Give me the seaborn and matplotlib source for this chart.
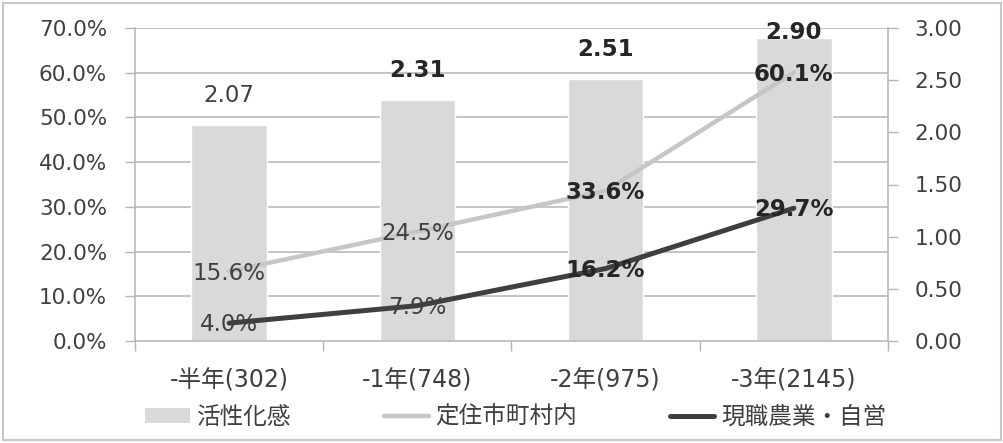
import numpy as np
import pandas as pd
import matplotlib
matplotlib.use('Agg')
import matplotlib.pyplot as plt
import seaborn as sns
from matplotlib.patches import Patch, Rectangle
from matplotlib.lines import Line2D

categories = ['-半年(302)', '-1年(748)', '-2年(975)', '-3年(2145)']
activation = [2.07, 2.31, 2.51, 2.90]
settle_pct = [15.6, 24.5, 33.6, 60.1]
farm_pct = [4.0, 7.9, 16.2, 29.7]
series_names = ['活性化感', '定住市町村内', '現職農業・自営']
pct_ticks = [0, 10, 20, 30, 40, 50, 60, 70]
score_ticks = [0.0, 0.5, 1.0, 1.5, 2.0, 2.5, 3.0]

sns.set_theme(style='white')
plt.rcParams['font.family'] = ['DejaVu Sans', 'Noto Sans CJK JP']

BAR = '#d9d9d9'
LIGHT = '#c6c6c6'
DARK = '#3f3f3f'
TXT = '#404040'
BOLD_TXT = '#262626'
GRID = '#b4b4b4'

W, H = 1004, 443
fig = plt.figure(figsize=(W / 100, H / 100), dpi=100)
ax = fig.add_axes([135 / W, 1 - 341 / H, (888 - 135) / W, (341 - 28) / H])
ax2 = ax.twinx()

df = pd.DataFrame({'cat': categories, 'score': activation})
sns.barplot(data=df, x='cat', y='score', ax=ax, color=BAR, width=0.4,
            saturation=1, zorder=2)

# gridlines follow the left (percent) scale, drawn behind bars
for p in pct_ticks[1:]:
    ax.axhline(p / pct_ticks[-1] * score_ticks[-1], color=GRID, lw=1.1, zorder=0.5)

ax.set_ylim(0, score_ticks[-1])
ax.set_xlim(-0.5, len(categories) - 0.5)
ax.set_xlabel('')
ax.set_ylabel('')
ax.yaxis.tick_right()
ax.yaxis.set_label_position('right')
ax.set_yticks(score_ticks, [f'{t:.2f}' for t in score_ticks])
ax.tick_params(axis='y', right=True, left=False, direction='out', length=7,
               width=1, color=GRID, labelsize=15.5, labelcolor=TXT, pad=12)
ax.set_xticks(range(len(categories)), categories)
ax.set_xticks(np.arange(-0.5, len(categories), 1.0), minor=True)
ax.tick_params(axis='x', which='major', length=0, labelsize=17, labelcolor=TXT, pad=20)
ax.tick_params(axis='x', which='minor', bottom=True, direction='out', length=7,
               width=1, color=GRID)
for s in ['left', 'right', 'bottom']:
    ax.spines[s].set_visible(True)
    ax.spines[s].set_color(GRID)
    ax.spines[s].set_linewidth(1.1)
ax.spines['top'].set_visible(False)

x = np.arange(len(categories))
sns.lineplot(x=x, y=settle_pct, ax=ax2, color=LIGHT, lw=3.2, legend=False, zorder=3)
sns.lineplot(x=x, y=farm_pct, ax=ax2, color=DARK, lw=3.6, legend=False, zorder=3)
ax2.set_ylim(0, pct_ticks[-1])
ax2.set_xlim(-0.5, len(categories) - 0.5)
ax2.yaxis.tick_left()
ax2.set_yticks(pct_ticks, [f'{t:.1f}%' for t in pct_ticks])
ax2.tick_params(axis='y', left=True, right=False, direction='out', length=7,
                width=1, color=GRID, labelsize=15.5, labelcolor=TXT, pad=13)
ax2.set_xlabel('')
ax2.set_ylabel('')
for s in ax2.spines.values():
    s.set_visible(False)

for i, v in enumerate(activation):
    bold = i > 0
    ax.text(i, min(v + 0.28, 2.96), f'{v:.2f}', ha='center', va='center', fontsize=16.5,
            fontweight='bold' if bold else 'normal', color=BOLD_TXT if bold else TXT, zorder=5)

for series in (settle_pct, farm_pct):
    for i, v in enumerate(series):
        bold = i >= 2
        ax2.text(i, v - 0.4, f'{v:.1f}%', ha='center', va='center', fontsize=16.5,
                 fontweight='bold' if bold else 'normal',
                 color=BOLD_TXT if bold else TXT, zorder=6)

handles = [Patch(facecolor=BAR, edgecolor='none'),
           Line2D([], [], color=LIGHT, lw=3.2),
           Line2D([], [], color=DARK, lw=3.6)]
fig.legend(handles, series_names, loc='center', bbox_to_anchor=(516 / W, 1 - 417 / H),
           ncol=3, frameon=False, fontsize=17, handlelength=1.9, handleheight=0.6,
           handletextpad=0.3, columnspacing=3.9, borderpad=0, labelcolor=TXT)

fig.patches.append(Rectangle((3 / W, 3 / H), (W - 6) / W, (H - 6) / H,
                             transform=fig.transFigure, fill=False,
                             edgecolor='#c8c8c8', lw=1.5))

fig.savefig('out.png', dpi=100)
